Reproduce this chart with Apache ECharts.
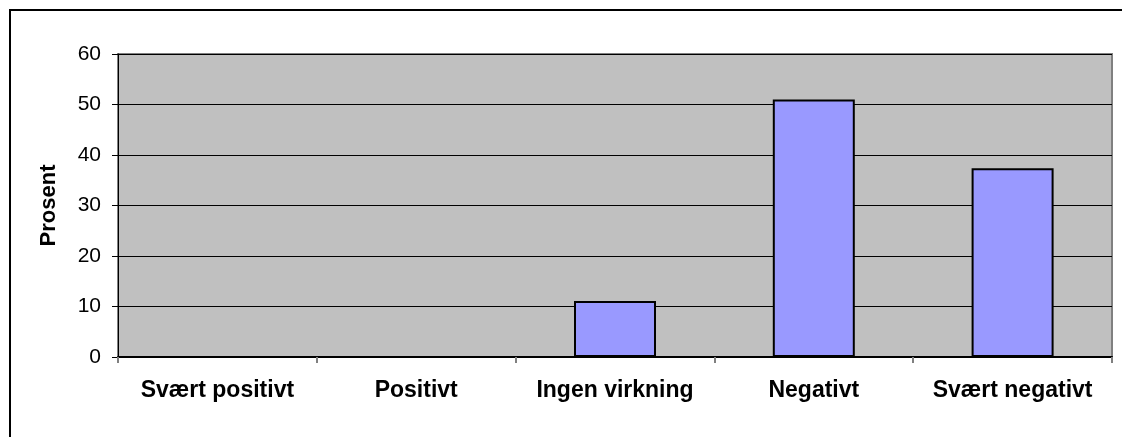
<!DOCTYPE html>
<html>
<head>
<meta charset="utf-8">
<script src="https://cdn.jsdelivr.net/npm/echarts@6/dist/echarts.min.js"></script>
<style>
  html, body { margin: 0; padding: 0; background: #fff; }
  #chart { width: 1122px; height: 437px; }
</style>
</head>
<body>
<div id="chart"></div>
<script>
// data
const categories = ['Svært positivt', 'Positivt', 'Ingen virkning', 'Negativt', 'Svært negativt']
const values = [0, 0, 11.1, 51, 37.4]
const yTicks = { min: 0, max: 60, interval: 10 }
const yName = 'Prosent'

const chart = echarts.init(document.getElementById('chart'))

chart.setOption({
  animation: false,
  textStyle: { fontFamily: 'Liberation Sans, Arial, sans-serif' },
  // outer frame
  graphic: [
    {
      type: 'rect',
      shape: { x: 10, y: 10, width: 1200, height: 600 },
      style: { fill: 'none', stroke: '#000', lineWidth: 2 },
      silent: true,
      z: 0
    }
  ],
  grid: {
    left: 118,
    top: 54,
    right: 10,
    bottom: 80,
    show: true,
    backgroundColor: '#c0c0c0',
    borderColor: '#808080',
    borderWidth: 2
  },
  xAxis: {
    type: 'category',
    data: categories,
    axisLine: { lineStyle: { color: '#000', width: 2 } },
    axisTick: { show: true, interval: 0, alignWithLabel: false, length: 6, lineStyle: { color: '#808080', width: 2 } },
    axisLabel: { color: '#000', fontSize: 23, fontWeight: 'bold', margin: 22, interval: 0, hideOverlap: false },
    splitLine: { show: false }
  },
  yAxis: {
    type: 'value',
    min: yTicks.min,
    max: yTicks.max,
    interval: yTicks.interval,
    name: yName,
    nameLocation: 'middle',
    nameGap: 58,
    nameRotate: 90,
    nameTextStyle: { color: '#000', fontSize: 22, fontWeight: 'bold' },
    axisLine: { show: true, lineStyle: { color: '#000', width: 1 } },
    axisTick: { show: true, length: 6, lineStyle: { color: '#000' } },
    axisLabel: { color: '#000', fontSize: 21, margin: 17 },
    splitLine: { show: true, lineStyle: { color: '#000', width: 1 } }
  },
  series: [
    {
      type: 'bar',
      data: values,
      barWidth: 82,
      itemStyle: { color: '#9999ff', borderColor: '#000', borderWidth: 2 }
    }
  ]
})
</script>
</body>
</html>
